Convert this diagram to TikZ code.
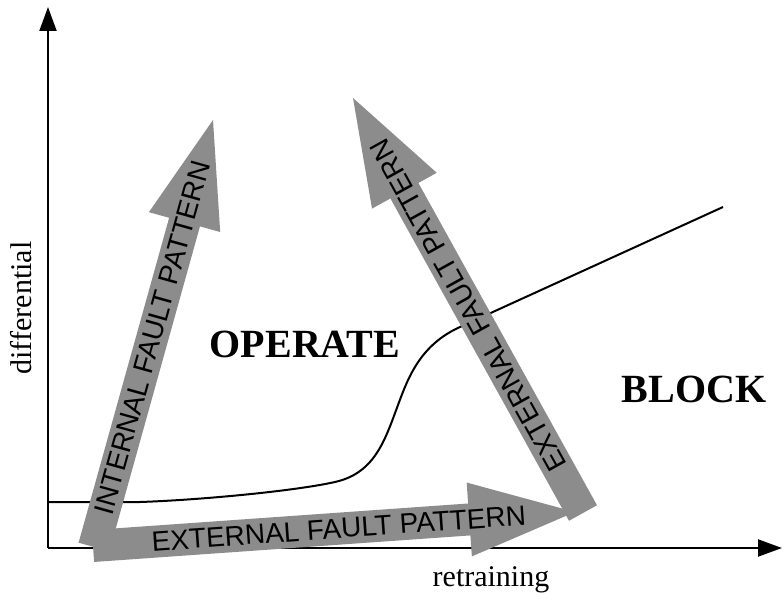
\documentclass[tikz,border=0pt]{standalone}
\usepackage{fontspec}
\setmainfont{Liberation Serif}
\newfontfamily\patternfont{Liberation Sans}
\usetikzlibrary{arrows.meta,calc}

\definecolor{faultgray}{RGB}{140,140,140}

\tikzset{
  axisline/.style={line width=2pt,-{Triangle[length=24pt,width=17pt]}},
  charline/.style={line width=2pt},
  faultfill/.style={fill=faultgray},
  patterntext/.style={font=\patternfont\fontsize{28}{30}\selectfont,inner sep=0pt},
  axislabel/.style={font=\fontsize{30}{32}\selectfont,inner sep=0pt},
  regionlabel/.style={font=\bfseries\fontsize{40}{42}\selectfont,inner sep=0pt},
}

% wide block arrow from #1 (tail) to #2 (tip); #3 names its head base point
\newcommand{\faultarrow}[3]{%
  \coordinate (#3-base) at ($(#2)!106pt!(#1)$);
  \fill[faultfill]
    ($(#1)!16pt!90:(#2)$) -- ($(#3-base)!16pt!90:(#2)$) --
    ($(#3-base)!37pt!90:(#2)$) -- (#2) --
    ($(#3-base)!37pt!-90:(#2)$) -- ($(#3-base)!16pt!-90:(#2)$) --
    ($(#1)!16pt!-90:(#2)$) -- cycle;
}

\begin{document}
\begin{tikzpicture}[x=1pt,y=-1pt]
  \useasboundingbox (0,0) rectangle (782,599);

  % axes
  \coordinate (origin) at (48,548);
  \coordinate (ytop) at (48,7);
  \coordinate (xend) at (782,548);
  \draw[axisline] (origin) -- (ytop);
  \draw[axisline] (origin) -- (xend);

  % restraint characteristic
  \coordinate (c0) at (48,502);
  \coordinate (c1) at (140,502);
  \coordinate (c2) at (335,482);
  \coordinate (c3) at (398,405);
  \coordinate (c4) at (460,327);
  \coordinate (c5) at (723,207);
  \draw[charline] (c0) -- (c1)
    .. controls (200,500) and (295,491) .. (c2)
    .. controls (375,473) and (385,440) .. (c3)
    .. controls (408,378) and (420,345) .. (c4)
    -- (c5);

  % fault pattern arrows
  \coordinate (intA) at (94,547);
  \coordinate (intB) at (213,120);
  \coordinate (extA) at (93,546);
  \coordinate (extB) at (575,512);
  \coordinate (dgA) at (583,513);
  \coordinate (dgB) at (353,98);
  \faultarrow{intA}{intB}{int}
  \faultarrow{extA}{extB}{ext}
  \faultarrow{dgA}{dgB}{dg}

  \path (intA) -- (intB)
    node[patterntext,pos=0.49,sloped] (intlabel) {INTERNAL FAULT PATTERN};
  \path (extA) -- (extB)
    node[patterntext,pos=0.51,sloped] (extlabel) {EXTERNAL FAULT PATTERN};
  \path (dgA) -- (dgB)
    node[patterntext,pos=0.5,sloped,allow upside down] (dglabel) {EXTERNAL FAULT PATTERN};

  % labels
  \node[axislabel,rotate=90] (ylabel) at (21,308) {differential};
  \node[axislabel] (xlabel) at (491,580) {retraining};
  \node[regionlabel] (operate) at (305,344) {OPERATE};
  \node[regionlabel] (block) at (694,389) {BLOCK};
\end{tikzpicture}
\end{document}
